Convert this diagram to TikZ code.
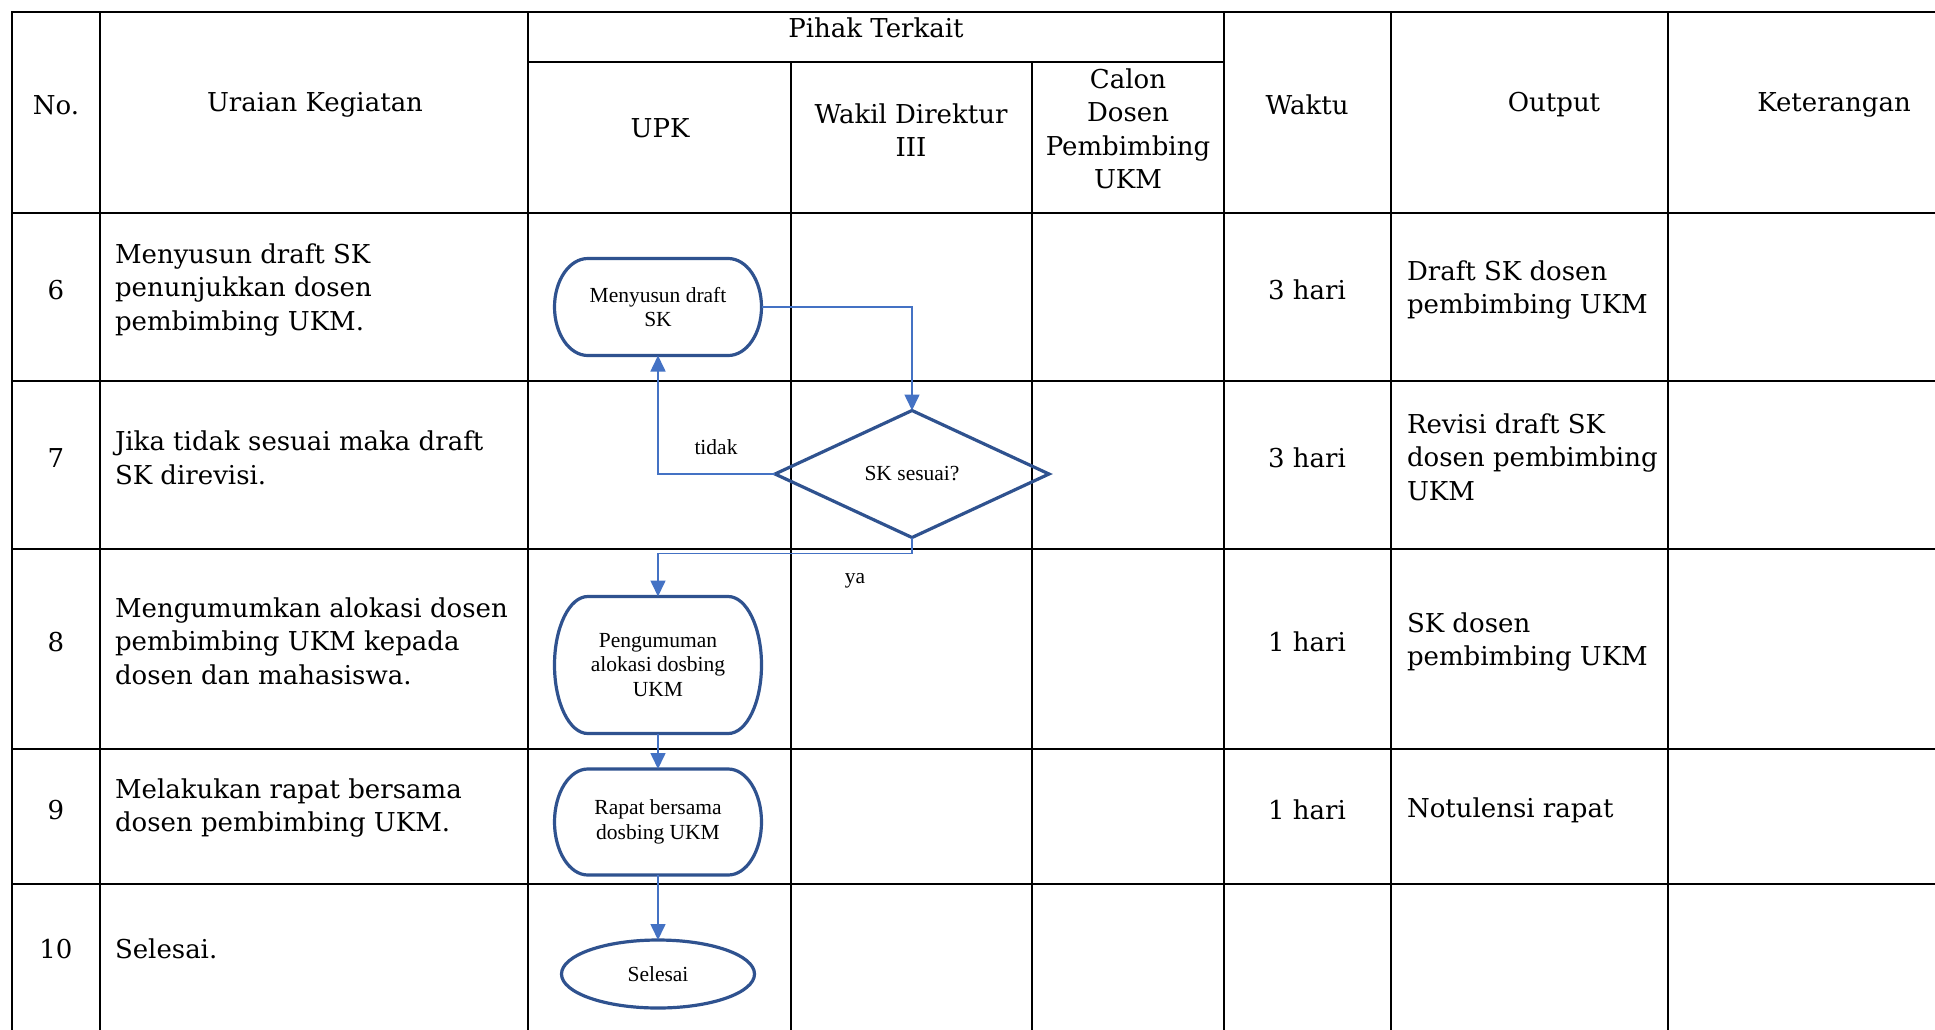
\documentclass[tikz,border=0pt]{standalone}
\usepackage{fontspec}
\setmainfont{DejaVu Serif}
\newfontfamily\fcfont{Liberation Serif}
\usetikzlibrary{shapes.geometric,arrows.meta}
\definecolor{connblue}{HTML}{4472C4}
\definecolor{shapeblue}{HTML}{2F528F}
\newcommand\termshape[3]{%
 \pgfmathsetmacro\trx{0.161*#2}%
 \pgfmathsetmacro\try{#3/2}%
 \draw[shapeb] ([xshift=\trx pt]#1.north west) -- ([xshift=-\trx pt]#1.north east)
   arc[start angle=-90,end angle=90,x radius=\trx,y radius=\try]
   -- ([xshift=\trx pt]#1.south west)
   arc[start angle=90,end angle=270,x radius=\trx,y radius=\try] -- cycle;}
\begin{document}
\begin{tikzpicture}[x=1pt,y=-1pt,
  grid/.style={line width=2.6pt,line cap=rect,black},
  ttext/.style={font=\fontsize{26}{33.5}\selectfont,inner sep=0,outer sep=0},
  fctext/.style={font=\fcfont\fontsize{21.5}{24.5}\selectfont,inner sep=0,outer sep=0,align=center},
  conn/.style={draw=connblue,line width=1.6pt,-{Triangle[width=15pt,length=16pt]}},
  shapeb/.style={draw=shapeblue,line width=3.2pt}]
\clip (0,0) rectangle (1935,1029);
\fill[white] (0,0) rectangle (1935,1029);
% table grid
\foreach \x in {12,100,528,1224,1391,1668} \draw[grid] (\x,12) -- (\x,1040);
\foreach \x in {791,1032} \draw[grid] (\x,62) -- (\x,1040);
\foreach \y in {12,213,381,549,749,884} \draw[grid] (12,\y) -- (1950,\y);
\draw[grid] (528,62) -- (1224,62);
% header
\node[ttext] (hno) at (56,105) {No.};
\node[ttext] (hur) at (315,105) {Uraian Kegiatan};
\node[ttext] (hpt) at (876,28) {Pihak Terkait};
\node[ttext] (hupk) at (660,128) {UPK};
\node[ttext,align=center] (hwd) at (911,130) {Wakil Direktur\\III};
\node[ttext,align=center] (hcd) at (1128,129) {Calon\\Dosen\\Pembimbing\\UKM};
\node[ttext] (hwk) at (1307,105) {Waktu};
\node[ttext] (hout) at (1554,105) {Output};
\node[ttext] (hket) at (1834,105) {Keterangan};
% numbers
\node[ttext] (n6) at (56,290) {6};
\node[ttext] (n7) at (56,458) {7};
\node[ttext] (n8) at (56,642) {8};
\node[ttext] (n9) at (56,810) {9};
\node[ttext] (n10) at (56,949) {10};
% uraian
\node[ttext,align=left,anchor=west] (u6) at (115,290) {Menyusun draft SK\\penunjukkan dosen\\pembimbing UKM.};
\node[ttext,align=left,anchor=west] (u7) at (115,458) {Jika tidak sesuai maka draft\\SK direvisi.};
\node[ttext,align=left,anchor=west] (u8) at (115,641) {Mengumumkan alokasi dosen\\pembimbing UKM kepada\\dosen dan mahasiswa.};
\node[ttext,align=left,anchor=west] (u9) at (115,808) {Melakukan rapat bersama\\dosen pembimbing UKM.};
\node[ttext,align=left,anchor=west] (u10) at (115,949) {Selesai.};
% waktu
\node[ttext] (w6) at (1307,290) {3 hari};
\node[ttext] (w7) at (1307,458) {3 hari};
\node[ttext] (w8) at (1307,642) {1 hari};
\node[ttext] (w9) at (1307,810) {1 hari};
% output
\node[ttext,align=left,anchor=west] (o6) at (1407,290) {Draft SK dosen\\pembimbing UKM};
\node[ttext,align=left,anchor=west] (o7) at (1407,457) {Revisi draft SK\\dosen pembimbing\\UKM};
\node[ttext,align=left,anchor=west] (o8) at (1407,642) {SK dosen\\pembimbing UKM};
\node[ttext,align=left,anchor=west] (o9) at (1407,810) {Notulensi rapat};
% flowchart
\node[fctext,minimum width=207pt,minimum height=97pt] (t1) at (658,307) {Menyusun draft\\SK};
\termshape{t1}{207}{97}
\node[fctext,shape=diamond,shapeb,aspect=2.2,minimum width=274pt,minimum height=127pt] (d1) at (912,474) {SK sesuai?};
\node[fctext,minimum width=207pt,minimum height=137pt] (t2) at (658,665) {Pengumuman\\alokasi dosbing\\UKM};
\termshape{t2}{207}{137}
\node[fctext,minimum width=207pt,minimum height=106pt] (t3) at (658,822) {Rapat bersama\\dosbing UKM};
\termshape{t3}{207}{106}
\node[fctext,shape=ellipse,shapeb,minimum width=193pt,minimum height=68pt] (e1) at (658,974) {Selesai};
\node[fctext] (lt) at (716,447) {tidak};
\node[fctext] (ly) at (855,581) {ya};
\draw[conn] (t1.east) -| (d1.north);
\draw[conn] (d1.west) -| (t1.south);
\draw[conn] (d1.south) -- ++(0,16) -| (t2.north);
\draw[conn] (t2.south) -- (t3.north);
\draw[conn] (t3.south) -- (e1.north);
\end{tikzpicture}
\end{document}
